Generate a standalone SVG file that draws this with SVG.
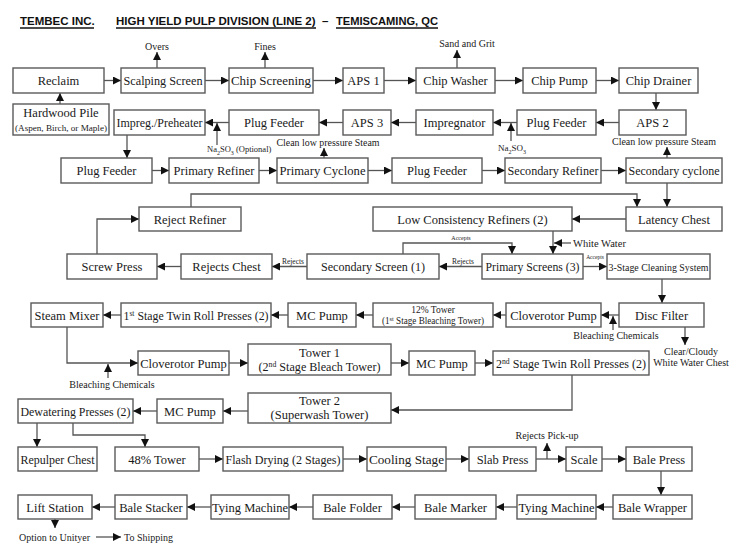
<svg xmlns="http://www.w3.org/2000/svg" width="744" height="556" viewBox="0 0 744 556">
<defs>
<marker id="a" viewBox="0 0 10 10" refX="10" refY="5" markerWidth="8" markerHeight="8" markerUnits="userSpaceOnUse" orient="auto"><path d="M0,0 L10,5 L0,10 z" fill="#111"/></marker>
<style>
.b{fill:#fff;stroke:#5a5a5a;stroke-width:1.4}
.t{font-family:"Liberation Serif","Times New Roman",serif;font-size:12.5px;text-anchor:middle;fill:#1a1a1a}
.s{font-family:"Liberation Serif","Times New Roman",serif;font-size:10px;text-anchor:middle;fill:#1a1a1a}
.xs{font-family:"Liberation Serif","Times New Roman",serif;font-size:8px;text-anchor:middle;fill:#1a1a1a}
.c{fill:none;stroke:#555;stroke-width:1.3}
.h{font-family:"Liberation Sans",Arial,sans-serif;font-size:11.5px;font-weight:bold;fill:#111}
.u{stroke:#111;stroke-width:1.3}
</style>
</defs>
<rect width="744" height="556" fill="#fff"/>
<g id="title">
<text class="h" x="20" y="25">TEMBEC INC.</text>
<text class="h" x="116" y="25">HIGH YIELD PULP DIVISION (LINE 2)</text>
<text class="h" x="322" y="25">–</text>
<text class="h" x="336" y="25" textLength="102" lengthAdjust="spacingAndGlyphs">TEMISCAMING, QC</text>
<line class="u" x1="20" y1="28" x2="94" y2="28"/>
<line class="u" x1="116" y1="28" x2="316" y2="28"/>
<line class="u" x1="336" y1="28" x2="438" y2="28"/>
</g>
<g id="connectors">
<path class="c" d="M104,80.5H121" marker-end="url(#a)"/>
<path class="c" d="M205,80.5H229" marker-end="url(#a)"/>
<path class="c" d="M313,80.5H343" marker-end="url(#a)"/>
<path class="c" d="M384,80.5H416" marker-end="url(#a)"/>
<path class="c" d="M495,80.5H523" marker-end="url(#a)"/>
<path class="c" d="M596,80.5H619" marker-end="url(#a)"/>
<path class="c" d="M157,68V52" marker-end="url(#a)"/>
<path class="c" d="M265,68V52" marker-end="url(#a)"/>
<path class="c" d="M457,68V50" marker-end="url(#a)"/>
<path class="c" d="M60,104V93" marker-end="url(#a)"/>
<path class="c" d="M656,93V110" marker-end="url(#a)"/>
<path class="c" d="M619,122.5H596" marker-end="url(#a)"/>
<path class="c" d="M517,122.5H493" marker-end="url(#a)"/>
<path class="c" d="M511,141V123" marker-end="url(#a)"/>
<path class="c" d="M416,122.5H391" marker-end="url(#a)"/>
<path class="c" d="M343,122.5H319" marker-end="url(#a)"/>
<path class="c" d="M229,122.5H205" marker-end="url(#a)"/>
<path class="c" d="M217,145V123" marker-end="url(#a)"/>
<path class="c" d="M127,135V158" marker-end="url(#a)"/>
<path class="c" d="M152,170.5H169" marker-end="url(#a)"/>
<path class="c" d="M259,170.5H277" marker-end="url(#a)"/>
<path class="c" d="M368,170.5H392" marker-end="url(#a)"/>
<path class="c" d="M482,170.5H505" marker-end="url(#a)"/>
<path class="c" d="M601,170.5H626" marker-end="url(#a)"/>
<path class="c" d="M324,158V148" marker-end="url(#a)"/>
<path class="c" d="M667,158V147" marker-end="url(#a)"/>
<path class="c" d="M667,183V207" marker-end="url(#a)"/>
<path class="c" d="M191,207V194H637V207" marker-end="url(#a)"/>
<path class="c" d="M626,219H572" marker-end="url(#a)"/>
<path class="c" d="M553,231V254" marker-end="url(#a)"/>
<path class="c" d="M571,243H554" marker-end="url(#a)"/>
<path class="c" d="M403,254V243H512V254" marker-end="url(#a)"/>
<path class="c" d="M482,266.5H439" marker-end="url(#a)"/>
<path class="c" d="M307,266.5H272" marker-end="url(#a)"/>
<path class="c" d="M181,266.5H157" marker-end="url(#a)"/>
<path class="c" d="M97,254V219H139" marker-end="url(#a)"/>
<path class="c" d="M583,266.5H607" marker-end="url(#a)"/>
<path class="c" d="M662,279V303" marker-end="url(#a)"/>
<path class="c" d="M619,315H601" marker-end="url(#a)"/>
<path class="c" d="M613,330V316" marker-end="url(#a)"/>
<path class="c" d="M685,327V345" marker-end="url(#a)"/>
<path class="c" d="M506,315H493" marker-end="url(#a)"/>
<path class="c" d="M373,315H356" marker-end="url(#a)"/>
<path class="c" d="M288,315H271" marker-end="url(#a)"/>
<path class="c" d="M121,315H103" marker-end="url(#a)"/>
<path class="c" d="M67,327V363H138" marker-end="url(#a)"/>
<path class="c" d="M108,378V364" marker-end="url(#a)"/>
<path class="c" d="M229,363H248" marker-end="url(#a)"/>
<path class="c" d="M391,363H409" marker-end="url(#a)"/>
<path class="c" d="M475,363H493" marker-end="url(#a)"/>
<path class="c" d="M572,375V410H391" marker-end="url(#a)"/>
<path class="c" d="M248,411H223" marker-end="url(#a)"/>
<path class="c" d="M157,411H133" marker-end="url(#a)"/>
<path class="c" d="M37,423V447" marker-end="url(#a)"/>
<path class="c" d="M73,423V435H145V447" marker-end="url(#a)"/>
<path class="c" d="M199,459H223" marker-end="url(#a)"/>
<path class="c" d="M343,459H367" marker-end="url(#a)"/>
<path class="c" d="M446,459H469" marker-end="url(#a)"/>
<path class="c" d="M536,459H566" marker-end="url(#a)"/>
<path class="c" d="M547,459V443" marker-end="url(#a)"/>
<path class="c" d="M602,459H626" marker-end="url(#a)"/>
<path class="c" d="M661,471V495" marker-end="url(#a)"/>
<path class="c" d="M613,507H596" marker-end="url(#a)"/>
<path class="c" d="M517,507H496" marker-end="url(#a)"/>
<path class="c" d="M415,507H392" marker-end="url(#a)"/>
<path class="c" d="M313,507H289" marker-end="url(#a)"/>
<path class="c" d="M211,507H187" marker-end="url(#a)"/>
<path class="c" d="M115,507H92" marker-end="url(#a)"/>
<path class="c" d="M55,519V528" marker-end="url(#a)"/>
<path class="c" d="M96,537H121" marker-end="url(#a)"/>
</g>
<g id="labels">
<text class="s" x="157" y="50">Overs</text>
<text class="s" x="265" y="50">Fines</text>
<text class="s" x="467" y="47">Sand and Grit</text>
<text class="s" x="328" y="146" textLength="103" lengthAdjust="spacingAndGlyphs">Clean low pressure Steam</text>
<text class="s" x="664" y="145" textLength="104" lengthAdjust="spacingAndGlyphs">Clean low pressure Steam</text>
<text class="xs" x="207" y="152" style="text-anchor:start;font-size:8.5px">Na<tspan baseline-shift="sub" font-size="6">2</tspan>SO<tspan baseline-shift="sub" font-size="6">3</tspan> (Optional)</text>
<text class="xs" x="498" y="151" style="text-anchor:start;font-size:9px">Na<tspan baseline-shift="sub" font-size="6">2</tspan>SO<tspan baseline-shift="sub" font-size="6">3</tspan></text>
<text class="xs" x="293" y="264" style="font-size:7.5px">Rejects</text>
<text class="xs" x="463" y="264" style="font-size:7.5px">Rejects</text>
<text class="xs" x="461" y="240" style="font-size:6px">Accepts</text>
<text class="xs" x="595" y="259" style="font-size:5.5px">Accepts</text>
<text class="s" x="573" y="247" style="text-anchor:start;font-size:10.5px">White Water</text>
<text class="s" x="616" y="339">Bleaching Chemicals</text>
<text class="s" x="691" y="355">Clear/Cloudy</text>
<text class="s" x="691" y="366">White Water Chest</text>
<text class="s" x="112" y="388">Bleaching Chemicals</text>
<text class="s" x="547" y="439">Rejects Pick-up</text>
<text class="s" x="19" y="541" style="text-anchor:start">Option to Unityer</text>
<text class="s" x="124" y="541" style="text-anchor:start">To Shipping</text>
</g>
<g id="reclaim"><rect class="b" x="13" y="68" width="91" height="25"/><text class="t" x="58.5" y="85">Reclaim</text></g>
<g id="scalping-screen"><rect class="b" x="121" y="68" width="84" height="25"/><text class="t" x="163" y="85" textLength="79" lengthAdjust="spacingAndGlyphs">Scalping Screen</text></g>
<g id="chip-screening"><rect class="b" x="229" y="68" width="84" height="25"/><text class="t" x="271" y="85" textLength="80" lengthAdjust="spacingAndGlyphs">Chip Screening</text></g>
<g id="aps1"><rect class="b" x="343" y="68" width="41" height="25"/><text class="t" x="363.5" y="85">APS 1</text></g>
<g id="chip-washer"><rect class="b" x="416" y="68" width="79" height="25"/><text class="t" x="455.5" y="85">Chip Washer</text></g>
<g id="chip-pump"><rect class="b" x="523" y="68" width="73" height="25"/><text class="t" x="559.5" y="85">Chip Pump</text></g>
<g id="chip-drainer"><rect class="b" x="619" y="68" width="79" height="25"/><text class="t" x="658.5" y="85">Chip Drainer</text></g>
<g id="hardwood-pile"><rect class="b" x="13" y="104" width="96" height="31"/><text class="t" x="61" y="117">Hardwood Pile</text><text class="xs" x="61" y="131" style="font-size:8.5px" textLength="92" lengthAdjust="spacingAndGlyphs">(Aspen, Birch, or Maple)</text></g>
<g id="impreg-preheater"><rect class="b" x="114" y="110" width="91" height="25"/><text class="t" x="159.5" y="127" textLength="86" lengthAdjust="spacingAndGlyphs">Impreg./Preheater</text></g>
<g id="plug-feeder-1"><rect class="b" x="229" y="110" width="90" height="25"/><text class="t" x="274" y="127">Plug Feeder</text></g>
<g id="aps3"><rect class="b" x="343" y="110" width="48" height="25"/><text class="t" x="367" y="127">APS 3</text></g>
<g id="impregnator"><rect class="b" x="416" y="110" width="77" height="25"/><text class="t" x="454.5" y="127">Impregnator</text></g>
<g id="plug-feeder-2"><rect class="b" x="517" y="110" width="79" height="25"/><text class="t" x="556.5" y="127">Plug Feeder</text></g>
<g id="aps2"><rect class="b" x="619" y="110" width="67" height="25"/><text class="t" x="652.5" y="127">APS 2</text></g>
<g id="plug-feeder-3"><rect class="b" x="61" y="158" width="91" height="25"/><text class="t" x="106.5" y="175">Plug Feeder</text></g>
<g id="primary-refiner"><rect class="b" x="169" y="158" width="90" height="25"/><text class="t" x="214" y="175">Primary Refiner</text></g>
<g id="primary-cyclone"><rect class="b" x="277" y="158" width="91" height="25"/><text class="t" x="322.5" y="175" textLength="86" lengthAdjust="spacingAndGlyphs">Primary Cyclone</text></g>
<g id="plug-feeder-4"><rect class="b" x="392" y="158" width="90" height="25"/><text class="t" x="437" y="175">Plug Feeder</text></g>
<g id="secondary-refiner"><rect class="b" x="505" y="158" width="96" height="25"/><text class="t" x="553" y="175" textLength="91" lengthAdjust="spacingAndGlyphs">Secondary Refiner</text></g>
<g id="secondary-cyclone"><rect class="b" x="626" y="158" width="96" height="25"/><text class="t" x="674" y="175" textLength="91" lengthAdjust="spacingAndGlyphs">Secondary cyclone</text></g>
<g id="reject-refiner"><rect class="b" x="139" y="207" width="102" height="24"/><text class="t" x="190" y="223.5">Reject Refiner</text></g>
<g id="low-consistency-refiners"><rect class="b" x="373" y="207" width="199" height="24"/><text class="t" x="472.5" y="223.5">Low Consistency Refiners (2)</text></g>
<g id="latency-chest"><rect class="b" x="626" y="207" width="96" height="24"/><text class="t" x="674" y="223.5">Latency Chest</text></g>
<g id="screw-press"><rect class="b" x="67" y="254" width="90" height="25"/><text class="t" x="112" y="271">Screw Press</text></g>
<g id="rejects-chest"><rect class="b" x="181" y="254" width="91" height="25"/><text class="t" x="226.5" y="271">Rejects Chest</text></g>
<g id="secondary-screen"><rect class="b" x="307" y="254" width="132" height="25"/><text class="t" x="373" y="271" textLength="104" lengthAdjust="spacingAndGlyphs">Secondary Screen (1)</text></g>
<g id="primary-screens"><rect class="b" x="482" y="254" width="101" height="25"/><text class="t" x="532.5" y="271" textLength="94" lengthAdjust="spacingAndGlyphs">Primary Screens (3)</text></g>
<g id="cleaning-system"><rect class="b" x="607" y="254" width="103" height="25"/><text class="t" x="658.5" y="270.5" style="font-size:10.5px" textLength="100" lengthAdjust="spacingAndGlyphs">3-Stage Cleaning System</text></g>
<g id="steam-mixer"><rect class="b" x="31" y="303" width="72" height="24"/><text class="t" x="67" y="319.5">Steam Mixer</text></g>
<g id="twin-roll-1"><rect class="b" x="121" y="303" width="150" height="24"/><text class="t" x="196" y="319.5" textLength="145" lengthAdjust="spacingAndGlyphs">1<tspan baseline-shift="super" font-size="8">st</tspan> Stage Twin Roll Presses (2)</text></g>
<g id="mc-pump-1"><rect class="b" x="288" y="303" width="68" height="24"/><text class="t" x="322" y="319.5">MC Pump</text></g>
<g id="tower-12"><rect class="b" x="373" y="303" width="120" height="24"/><text class="s" x="433" y="313" style="font-size:9.5px">12% Tower</text><text class="s" x="433" y="323.5" style="font-size:9.5px" textLength="102" lengthAdjust="spacingAndGlyphs">(1<tspan baseline-shift="super" font-size="6.5">st</tspan> Stage Bleaching Tower)</text></g>
<g id="cloverotor-pump-1"><rect class="b" x="506" y="303" width="95" height="24"/><text class="t" x="553.5" y="319.5">Cloverotor Pump</text></g>
<g id="disc-filter"><rect class="b" x="619" y="303" width="85" height="24"/><text class="t" x="661.5" y="319.5">Disc Filter</text></g>
<g id="cloverotor-pump-2"><rect class="b" x="138" y="351" width="91" height="24"/><text class="t" x="183.5" y="367.5">Cloverotor Pump</text></g>
<g id="tower-1"><rect class="b" x="248" y="344" width="143" height="31"/><text class="t" x="319.5" y="357">Tower 1</text><text class="t" x="319.5" y="371" textLength="122" lengthAdjust="spacingAndGlyphs">(2<tspan baseline-shift="super" font-size="8">nd</tspan> Stage Bleach Tower)</text></g>
<g id="mc-pump-2"><rect class="b" x="409" y="351" width="66" height="24"/><text class="t" x="442" y="367.5">MC Pump</text></g>
<g id="twin-roll-2"><rect class="b" x="493" y="351" width="156" height="24"/><text class="t" x="571" y="367.5" textLength="150" lengthAdjust="spacingAndGlyphs">2<tspan baseline-shift="super" font-size="8">nd</tspan> Stage Twin Roll Presses (2)</text></g>
<g id="dewatering-presses"><rect class="b" x="18" y="399" width="115" height="24"/><text class="t" x="75.5" y="415.5" textLength="110" lengthAdjust="spacingAndGlyphs">Dewatering Presses (2)</text></g>
<g id="mc-pump-3"><rect class="b" x="157" y="399" width="66" height="24"/><text class="t" x="190" y="415.5">MC Pump</text></g>
<g id="tower-2"><rect class="b" x="248" y="393" width="143" height="30"/><text class="t" x="319.5" y="405">Tower 2</text><text class="t" x="319.5" y="419">(Superwash Tower)</text></g>
<g id="repulper-chest"><rect class="b" x="18" y="447" width="79" height="24"/><text class="t" x="57.5" y="463.5" textLength="74" lengthAdjust="spacingAndGlyphs">Repulper Chest</text></g>
<g id="tower-48"><rect class="b" x="115" y="447" width="84" height="24"/><text class="t" x="157" y="463.5">48% Tower</text></g>
<g id="flash-drying"><rect class="b" x="223" y="447" width="120" height="24"/><text class="t" x="283" y="463.5" textLength="115" lengthAdjust="spacingAndGlyphs">Flash Drying (2 Stages)</text></g>
<g id="cooling-stage"><rect class="b" x="367" y="447" width="79" height="24"/><text class="t" x="406.5" y="463.5" textLength="75" lengthAdjust="spacingAndGlyphs">Cooling Stage</text></g>
<g id="slab-press"><rect class="b" x="469" y="447" width="67" height="24"/><text class="t" x="502.5" y="463.5">Slab Press</text></g>
<g id="scale"><rect class="b" x="566" y="447" width="36" height="24"/><text class="t" x="584" y="463.5">Scale</text></g>
<g id="bale-press"><rect class="b" x="626" y="447" width="66" height="24"/><text class="t" x="659" y="463.5">Bale Press</text></g>
<g id="lift-station"><rect class="b" x="18" y="495" width="74" height="24"/><text class="t" x="55" y="511.5">Lift Station</text></g>
<g id="bale-stacker"><rect class="b" x="115" y="495" width="72" height="24"/><text class="t" x="151" y="511.5">Bale Stacker</text></g>
<g id="tying-machine-1"><rect class="b" x="211" y="495" width="78" height="24"/><text class="t" x="250" y="511.5" textLength="76" lengthAdjust="spacingAndGlyphs">Tying Machine</text></g>
<g id="bale-folder"><rect class="b" x="313" y="495" width="79" height="24"/><text class="t" x="352.5" y="511.5">Bale Folder</text></g>
<g id="bale-marker"><rect class="b" x="415" y="495" width="81" height="24"/><text class="t" x="455.5" y="511.5">Bale Marker</text></g>
<g id="tying-machine-2"><rect class="b" x="517" y="495" width="79" height="24"/><text class="t" x="556.5" y="511.5" textLength="76" lengthAdjust="spacingAndGlyphs">Tying Machine</text></g>
<g id="bale-wrapper"><rect class="b" x="613" y="495" width="79" height="24"/><text class="t" x="652.5" y="511.5">Bale Wrapper</text></g>
</svg>
